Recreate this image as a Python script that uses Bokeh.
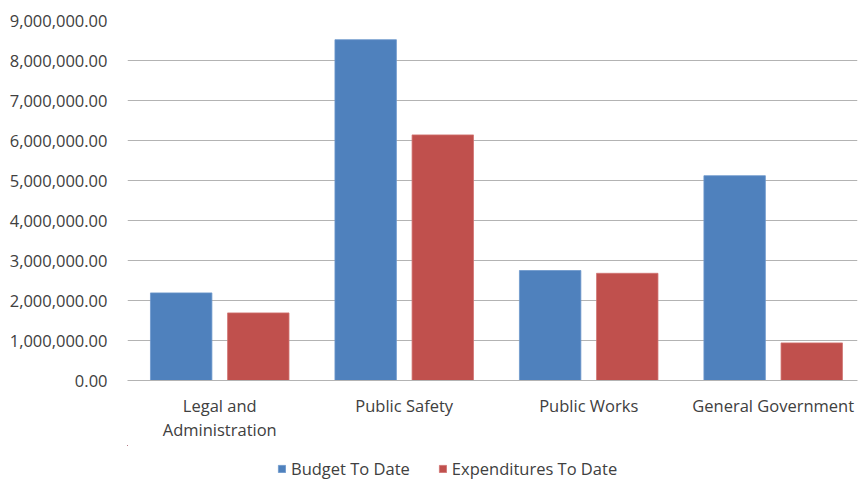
from bokeh.plotting import figure
from bokeh.layouts import column
from bokeh.models import (ColumnDataSource, Range1d, NumeralTickFormatter,
                          Legend, LegendItem, FixedTicker)
from bokeh.transform import dodge
from bokeh.embed import file_html
from bokeh.resources import INLINE

categories = ["Legal and Administration", "Public Safety", "Public Works", "General Government"]
category_labels = ["Legal and\nAdministration", "Public Safety", "Public Works", "General Government"]
budget_to_date = [2190000, 8520000, 2750000, 5120000]
expenditures_to_date = [1690000, 6140000, 2680000, 940000]
series_names = ["Budget To Date", "Expenditures To Date"]
y_ticks = [0, 1000000, 2000000, 3000000, 4000000, 5000000, 6000000, 7000000, 8000000, 9000000]

FONT = "Open Sans"
FS = "16.5px"
TEXT_COLOR = "#404040"
GRID = "#B3B3B3"
BLUE = "#4F81BD"
RED = "#C0504D"

centers = [i + 0.5 for i in range(len(categories))]
source = ColumnDataSource(data=dict(x=centers, cat=categories,
                                    budget=budget_to_date, exp=expenditures_to_date))

p = figure(x_range=Range1d(0, 3.957), y_range=Range1d(0, 9000000),
           width=859, height=445, output_backend="svg", toolbar_location=None,
           min_border_left=127, min_border_right=2, min_border_top=20, min_border_bottom=65)

p.vbar(x=dodge("x", -0.209), top="budget", width=0.333, source=source,
       fill_color=BLUE, line_color="#6C97CC", line_width=0.8)
p.vbar(x=dodge("x", 0.209), top="exp", width=0.333, source=source,
       fill_color=RED, line_color="#D07472", line_width=0.8)

p.outline_line_color = None
p.background_fill_color = "white"
p.border_fill_color = "white"

p.yaxis.ticker = FixedTicker(ticks=y_ticks)
p.yaxis.formatter = NumeralTickFormatter(format="0,0.00")
p.yaxis.axis_line_color = None
p.yaxis.major_tick_line_color = None
p.yaxis.minor_tick_line_color = None
p.yaxis.major_label_standoff = 14
p.yaxis.major_label_text_font = FONT
p.yaxis.major_label_text_font_size = FS
p.yaxis.major_label_text_color = TEXT_COLOR

p.xaxis.ticker = FixedTicker(ticks=centers)
p.xaxis.major_label_overrides = {c: lab for c, lab in zip(centers, category_labels)}
p.xaxis.axis_line_color = GRID
p.xaxis.axis_line_width = 1.2
p.xaxis.major_tick_line_color = None
p.xaxis.minor_tick_line_color = None
p.xaxis.major_tick_out = 0
p.xaxis.major_label_standoff = 13
p.xaxis.major_label_text_font = FONT
p.xaxis.major_label_text_font_size = FS
p.xaxis.major_label_text_color = TEXT_COLOR
p.xaxis.major_label_text_line_height = 1.07

p.xgrid.grid_line_color = None
p.ygrid.grid_line_color = GRID
p.ygrid.grid_line_width = 1.2

# legend strip below the chart (its frame is aligned with the chart's frame);
# the key renderers lie entirely outside its view, only the legend is visible
lg = figure(width=859, height=36, output_backend="svg", toolbar_location=None,
            x_range=Range1d(10, 11), y_range=Range1d(-2, -1),
            min_border_left=0, min_border_right=0, min_border_top=0, min_border_bottom=0)
lg.axis.visible = False
lg.grid.visible = False
lg.outline_line_color = None
lg.border_fill_color = "white"
lg.background_fill_color = "white"
k1 = lg.vbar(x=dodge("x", -0.209), top="budget", width=0.333, source=source,
             fill_color=BLUE, line_color="#6C97CC", line_width=0.8)
k2 = lg.vbar(x=dodge("x", 0.209), top="exp", width=0.333, source=source,
             fill_color=RED, line_color="#D07472", line_width=0.8)

legend = Legend(items=[LegendItem(label=series_names[0], renderers=[k1], index=0),
                       LegendItem(label=series_names[1], renderers=[k2], index=0)],
                orientation="horizontal", location=(150, 1))
legend.label_text_font = FONT
legend.label_text_font_size = FS
legend.label_text_color = TEXT_COLOR
legend.glyph_width = 9
legend.glyph_height = 9
legend.label_standoff = 5
legend.spacing = 28
legend.border_line_color = None
legend.background_fill_alpha = 0
legend.padding = 0
legend.margin = 0
lg.add_layout(legend, "center")

layout = column(p, lg, spacing=0)
open("out.html", "w").write(file_html(layout, INLINE))
